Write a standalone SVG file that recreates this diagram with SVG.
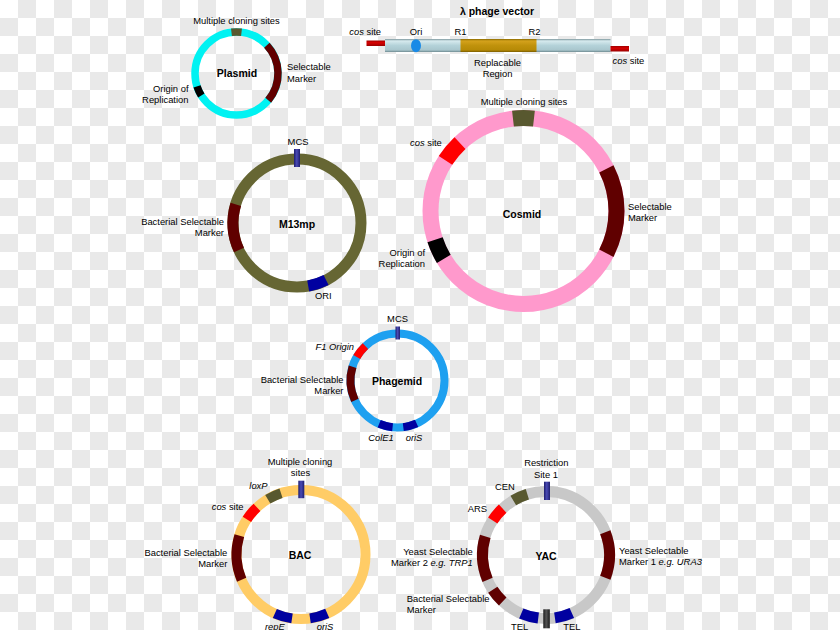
<svg xmlns="http://www.w3.org/2000/svg" width="840" height="630" viewBox="0 0 840 630">
<defs>
<pattern id="chk" patternUnits="userSpaceOnUse" width="36" height="36">
<rect width="36" height="36" fill="#ffffff"/>
<rect x="18" y="0" width="18" height="18" fill="#e9e9e9"/>
<rect x="0" y="18" width="18" height="18" fill="#e9e9e9"/>
</pattern>
<linearGradient id="gBar" x1="0" y1="0" x2="1" y2="0">
<stop offset="0" stop-color="#1e1e6e"/><stop offset="0.45" stop-color="#4a4ab4"/><stop offset="1" stop-color="#1e1e6e"/>
</linearGradient>
<linearGradient id="gBlk" x1="0" y1="0" x2="1" y2="0">
<stop offset="0" stop-color="#1a1a1a"/><stop offset="0.45" stop-color="#555555"/><stop offset="1" stop-color="#1a1a1a"/>
</linearGradient>
<linearGradient id="gLam" x1="0" y1="0" x2="0" y2="1">
<stop offset="0" stop-color="#7c969c"/><stop offset="0.15" stop-color="#d6eaee"/><stop offset="0.5" stop-color="#b4d2d9"/><stop offset="0.85" stop-color="#a9c6cd"/><stop offset="1" stop-color="#6e8a90"/>
</linearGradient>
<linearGradient id="gGold" x1="0" y1="0" x2="0" y2="1">
<stop offset="0" stop-color="#8a6a00"/><stop offset="0.15" stop-color="#d4a21c"/><stop offset="0.5" stop-color="#c0920c"/><stop offset="0.85" stop-color="#b68a06"/><stop offset="1" stop-color="#7a5c00"/>
</linearGradient>
<linearGradient id="gRed" x1="0" y1="0" x2="0" y2="1">
<stop offset="0" stop-color="#a00000"/><stop offset="0.4" stop-color="#d80000"/><stop offset="1" stop-color="#9a0000"/>
</linearGradient>
</defs>
<style>
text{font-family:"Liberation Sans",Arial,sans-serif;font-size:9.4px;fill:#000}
.t{font-weight:bold;font-size:10.5px}
.m{text-anchor:middle}
.e{text-anchor:end}
.i{font-style:italic}
circle{fill:none}
.ol{stroke:#58582f}
.dr{stroke:#600000}
.rd{stroke:#ff0000}
.bk{stroke:#000000}
.nv{stroke:#0000a0}
.bar{fill:url(#gBar)}
</style>
<rect width="840" height="630" fill="url(#chk)"/>

<g id="plasmid">
<circle cx="236.5" cy="73.5" r="41.5" stroke="#00f2f2" stroke-width="7.5"/>
<g stroke-width="7.5">
<circle class="ol" cx="236.5" cy="73.5" r="41.5" pathLength="360" stroke-dasharray="14 346" transform="rotate(-97 236.5 73.5)"/>
<circle class="dr" cx="236.5" cy="73.5" r="41.5" pathLength="360" stroke-dasharray="83 277" transform="rotate(-43 236.5 73.5)"/>
<circle class="bk" cx="236.5" cy="73.5" r="41.5" pathLength="360" stroke-dasharray="14 346" transform="rotate(148 236.5 73.5)"/>
</g>
<text class="t m" x="237" y="77">Plasmid</text>
<text class="m" x="236.5" y="23.5">Multiple cloning sites</text>
<text x="287" y="70">Selectable</text>
<text x="287" y="82">Marker</text>
<text class="e" x="188.5" y="91.5">Origin of</text>
<text class="e" x="188.5" y="102.5">Replication</text>
</g>

<g id="lambda">
<text class="t m" x="497" y="14.5">λ phage vector</text>
<text x="349.3" y="34.5"><tspan class="i">cos</tspan> site</text>
<text class="m" x="416" y="34.5">Ori</text>
<text class="m" x="460.5" y="34.5">R1</text>
<text class="m" x="534.5" y="34.5">R2</text>
<rect x="366.5" y="40.5" width="19" height="5.5" fill="url(#gRed)"/>
<rect x="385" y="39" width="225.5" height="13" fill="url(#gLam)"/>
<rect x="460.5" y="39" width="76" height="13" fill="url(#gGold)"/>
<ellipse cx="416" cy="45.7" rx="5" ry="6.5" fill="#1a8ae6"/>
<rect x="610.5" y="46" width="18.5" height="5.5" fill="url(#gRed)"/>
<text x="612.5" y="63.5"><tspan class="i">cos</tspan> site</text>
<text class="m" x="497.5" y="66">Replacable</text>
<text class="m" x="497.5" y="77">Region</text>
</g>

<g id="m13mp">
<circle cx="297" cy="223" r="64" stroke="#666633" stroke-width="11"/>
<g stroke-width="11">
<circle class="dr" cx="297" cy="223" r="64" pathLength="360" stroke-dasharray="42 318" transform="rotate(155 297 223)"/>
<circle class="nv" cx="297" cy="223" r="64" pathLength="360" stroke-dasharray="17 343" transform="rotate(63 297 223)"/>
</g>
<rect class="bar" x="294" y="149" width="6" height="18"/>
<text class="m" x="298" y="145">MCS</text>
<text class="t m" x="297" y="228">M13mp</text>
<text class="e" x="224" y="225">Bacterial Selectable</text>
<text class="e" x="224" y="236">Marker</text>
<text x="315" y="298.5">ORI</text>
</g>

<g id="cosmid">
<circle cx="523.5" cy="211" r="93" stroke="#ff99cc" stroke-width="16"/>
<g stroke-width="16">
<circle class="ol" cx="523.5" cy="211" r="93" pathLength="360" stroke-dasharray="13 347" transform="rotate(-96.5 523.5 211)"/>
<circle class="rd" cx="523.5" cy="211" r="93" pathLength="360" stroke-dasharray="14 346" transform="rotate(-147 523.5 211)"/>
<circle class="dr" cx="523.5" cy="211" r="93" pathLength="360" stroke-dasharray="54 306" transform="rotate(-27 523.5 211)"/>
<circle class="bk" cx="523.5" cy="211" r="93" pathLength="360" stroke-dasharray="13 347" transform="rotate(149 523.5 211)"/>
</g>
<text class="m" x="524" y="104.5">Multiple cloning sites</text>
<text x="410" y="146"><tspan class="i">cos</tspan> site</text>
<text class="t m" x="522" y="218">Cosmid</text>
<text x="628" y="210">Selectable</text>
<text x="628" y="221">Marker</text>
<text class="e" x="425" y="256">Origin of</text>
<text class="e" x="425" y="267">Replication</text>
</g>

<g id="phagemid">
<circle cx="397.5" cy="380.5" r="47" stroke="#1ea0f0" stroke-width="8"/>
<g stroke-width="8">
<circle class="rd" cx="397.5" cy="380.5" r="47" pathLength="360" stroke-dasharray="17 343" transform="rotate(-150 397.5 380.5)"/>
<circle class="dr" cx="397.5" cy="380.5" r="47" pathLength="360" stroke-dasharray="42 318" transform="rotate(155 397.5 380.5)"/>
<circle class="nv" cx="397.5" cy="380.5" r="47" pathLength="360" stroke-dasharray="17 343" transform="rotate(96 397.5 380.5)"/>
<circle class="nv" cx="397.5" cy="380.5" r="47" pathLength="360" stroke-dasharray="17 343" transform="rotate(66 397.5 380.5)"/>
</g>
<rect class="bar" x="395.5" y="326.5" width="4.5" height="13"/>
<text class="m" x="397.5" y="321.5">MCS</text>
<text class="e i" x="354" y="350">F1 Origin</text>
<text class="e" x="343.5" y="383">Bacterial Selectable</text>
<text class="e" x="343.5" y="394">Marker</text>
<text class="t m" x="397" y="385">Phagemid</text>
<text class="i" x="368.3" y="441">ColE1</text>
<text class="i" x="405.7" y="441">oriS</text>
</g>

<g id="bac">
<circle cx="301" cy="554.5" r="64.5" stroke="#ffcc66" stroke-width="10"/>
<g stroke-width="10">
<circle class="ol" cx="301" cy="554.5" r="64.5" pathLength="360" stroke-dasharray="13 347" transform="rotate(-121 301 554.5)"/>
<circle class="rd" cx="301" cy="554.5" r="64.5" pathLength="360" stroke-dasharray="14 346" transform="rotate(-147 301 554.5)"/>
<circle class="dr" cx="301" cy="554.5" r="64.5" pathLength="360" stroke-dasharray="40 320" transform="rotate(157 301 554.5)"/>
<circle class="nv" cx="301" cy="554.5" r="64.5" pathLength="360" stroke-dasharray="16 344" transform="rotate(98 301 554.5)"/>
<circle class="nv" cx="301" cy="554.5" r="64.5" pathLength="360" stroke-dasharray="16 344" transform="rotate(66 301 554.5)"/>
</g>
<rect class="bar" x="298.3" y="480.7" width="6" height="17.5"/>
<text class="m" x="300" y="465">Multiple cloning</text>
<text class="m" x="300.5" y="476">sites</text>
<text class="i" x="249.3" y="488.5">loxP</text>
<text x="211.7" y="510"><tspan class="i">cos</tspan> site</text>
<text class="e" x="227.3" y="556">Bacterial Selectable</text>
<text class="e" x="227.3" y="567">Marker</text>
<text class="t m" x="300" y="559">BAC</text>
<text class="i" x="265" y="629.5">repE</text>
<text class="i" x="316.7" y="629.5">oriS</text>
</g>

<g id="yac">
<circle cx="546" cy="555" r="63.5" stroke="#c8c8c8" stroke-width="11"/>
<g stroke-width="11">
<circle class="ol" cx="546" cy="555" r="63.5" pathLength="360" stroke-dasharray="14 346" transform="rotate(-121 546 555)"/>
<circle class="rd" cx="546" cy="555" r="63.5" pathLength="360" stroke-dasharray="14 346" transform="rotate(-147 546 555)"/>
<circle class="dr" cx="546" cy="555" r="63.5" pathLength="360" stroke-dasharray="40 320" transform="rotate(157 546 555)"/>
<circle class="dr" cx="546" cy="555" r="63.5" pathLength="360" stroke-dasharray="42 318" transform="rotate(-21 546 555)"/>
<circle class="dr" cx="546" cy="555" r="63.5" pathLength="360" stroke-dasharray="14 346" transform="rotate(133 546 555)"/>
<circle class="nv" cx="546" cy="555" r="63.5" pathLength="360" stroke-dasharray="16 344" transform="rotate(97 546 555)"/>
<circle class="nv" cx="546" cy="555" r="63.5" pathLength="360" stroke-dasharray="16 344" transform="rotate(66 546 555)"/>
</g>
<rect class="bar" x="544" y="481.7" width="6" height="18.3"/>
<rect x="543.3" y="609.3" width="6.5" height="19" fill="url(#gBlk)"/>
<text class="m" x="546.3" y="466">Restriction</text>
<text class="m" x="546" y="478">Site 1</text>
<text x="495" y="490">CEN</text>
<text x="467.7" y="512">ARS</text>
<text class="e" x="472.7" y="554.5">Yeast Selectable</text>
<text class="e" x="472.7" y="566">Marker 2 <tspan class="i">e.g. TRP1</tspan></text>
<text class="t m" x="546" y="559.5">YAC</text>
<text x="619" y="554">Yeast Selectable</text>
<text x="619" y="565">Marker 1 <tspan class="i">e.g. URA3</tspan></text>
<text x="406.7" y="602">Bacterial Selectable</text>
<text x="406.7" y="613">Marker</text>
<text x="511" y="629.6">TEL</text>
<text x="563.3" y="629.6">TEL</text>
</g>
</svg>
